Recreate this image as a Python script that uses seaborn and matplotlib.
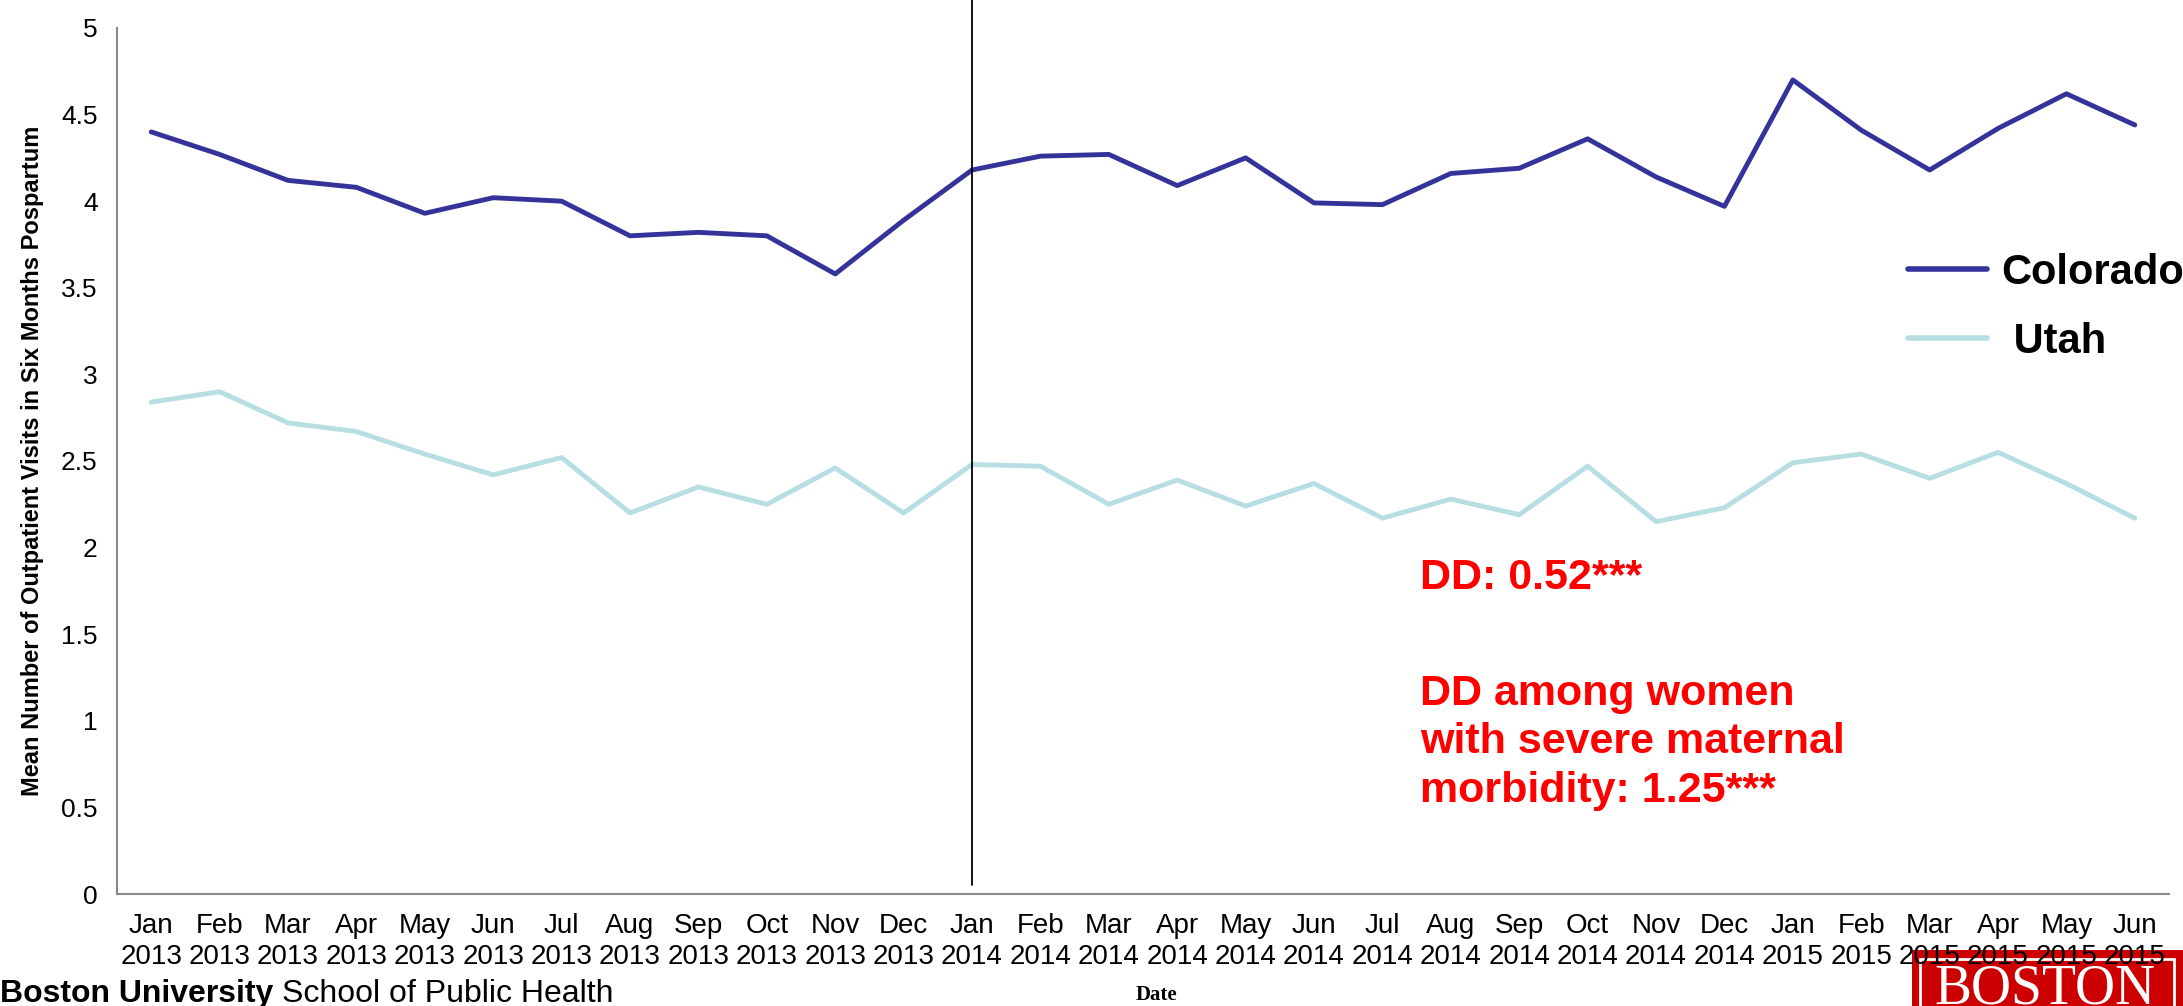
import pandas as pd
import matplotlib.pyplot as plt
import matplotlib.patches as mpatches
from matplotlib import font_manager
import seaborn as sns

# monthly series, Jan 2013 - Jun 2015
months = ["Jan", "Feb", "Mar", "Apr", "May", "Jun", "Jul", "Aug", "Sep", "Oct", "Nov", "Dec"] * 2 + \
         ["Jan", "Feb", "Mar", "Apr", "May", "Jun"]
years = ["2013"] * 12 + ["2014"] * 12 + ["2015"] * 6
colorado = [4.40, 4.27, 4.12, 4.08, 3.93, 4.02, 4.00, 3.80, 3.82, 3.80, 3.58, 3.89,
            4.18, 4.26, 4.27, 4.09, 4.25, 3.99, 3.98, 4.16, 4.19, 4.36, 4.14, 3.97,
            4.70, 4.41, 4.18, 4.42, 4.62, 4.44]
utah = [2.84, 2.90, 2.72, 2.67, 2.54, 2.42, 2.52, 2.20, 2.35, 2.25, 2.46, 2.20,
        2.48, 2.47, 2.25, 2.39, 2.24, 2.37, 2.17, 2.28, 2.19, 2.47, 2.15, 2.23,
        2.49, 2.54, 2.40, 2.55, 2.37, 2.17]
y_ticks = [0, 0.5, 1, 1.5, 2, 2.5, 3, 3.5, 4, 4.5, 5]
policy_idx = 12  # Jan 2014

labels = [f"{m}\n{y}" for m, y in zip(months, years)]
n = len(labels)
df = pd.DataFrame({
    "idx": list(range(n)) * 2,
    "visits": colorado + utah,
    "state": ["Colorado"] * n + ["Utah"] * n,
})

sns.set_style("white")
installed = {f.name for f in font_manager.fontManager.ttflist}
narrow = "Liberation Sans Narrow" if "Liberation Sans Narrow" in installed else "Liberation Sans"
plt.rcParams["font.family"] = ["Liberation Sans", "DejaVu Sans"]
plt.rcParams["text.color"] = "black"

fig = plt.figure(figsize=(21.83, 10.06), dpi=100)
ax = fig.add_axes([0.0536, 0.1113, 0.94, 0.8609])

sns.lineplot(data=df, x="idx", y="visits", hue="state",
             palette={"Colorado": "#333399", "Utah": "#b7dfe3"},
             linewidth=3.5, ax=ax, legend=False)

ax.axvline(policy_idx, ymin=0.01, ymax=1.04, color="black", linewidth=1.3, clip_on=False)

ax.set_xlim(-0.5, n - 0.5)
ax.set_ylim(0, 5)
ax.set_yticks(y_ticks)
ax.set_yticklabels([f"{v:g}" for v in y_ticks], fontsize=19, color="black")
ax.set_xticks(range(n))
ax.set_xticklabels(labels, fontsize=20, family=narrow, linespacing=1.22, color="black")
ax.tick_params(axis="x", length=0, pad=14)
ax.set_xticks([i - 0.5 for i in range(n + 1)], minor=True)
ax.tick_params(axis="x", which="minor", length=9, color="#888888", width=1.2, direction="out")
ax.tick_params(axis="y", length=8, color="#888888", width=1.2, direction="out", pad=6)

for side in ["top", "right"]:
    ax.spines[side].set_visible(False)
for side in ["left", "bottom"]:
    ax.spines[side].set_color("#888888")
    ax.spines[side].set_linewidth(1.5)

ax.set_xlabel("")
ax.set_ylabel("Mean Number of Outpatient Visits in Six Months Pospartum",
              fontsize=17, fontweight="bold", family=narrow, labelpad=12, color="black")

handles = [plt.Line2D([], [], color="#333399", linewidth=4),
           plt.Line2D([], [], color="#b7dfe3", linewidth=4)]
fig.legend(handles, ["Colorado", " Utah"], loc="upper left", bbox_to_anchor=(0.874, 0.749),
           frameon=False, handlelength=1.9, handletextpad=0.35,
           labelspacing=0.7, borderpad=0, borderaxespad=0, prop={"weight": "bold", "size": 30})

ax.text(0.6505, 0.425, "DD: 0.52***", transform=fig.transFigure, color="#ff0000",
        fontsize=31, fontweight="bold", va="center", ha="left")
ax.text(0.6505, 0.262, "DD among women\nwith severe maternal\nmorbidity: 1.25***",
        transform=fig.transFigure, color="#ff0000", fontsize=31, fontweight="bold",
        va="center", ha="left", linespacing=1.27)

fig.text(1136 / 2183, 0.011, "Date", family=["Liberation Serif", "DejaVu Serif"],
         fontsize=15, fontweight="bold", ha="left", va="center")

# footer: bold name, then the school right after it
bu = fig.text(0.0, 0.012, "Boston University", family=narrow, fontsize=23, fontweight="bold",
              ha="left", va="center")
fig.canvas.draw()
bb = bu.get_window_extent().transformed(fig.transFigure.inverted())
fig.text(bb.x1 + 0.004, 0.012, "School of Public Health", family=narrow, fontsize=23,
         ha="left", va="center")

# BU logo block, bottom right (drawn under the axes so tick labels sit on top)
fig.patches.append(mpatches.Rectangle((1912 / 2183, 0), 1 - 1912 / 2183, 56 / 1006,
                                      transform=fig.transFigure, facecolor="#cc0000",
                                      edgecolor="none", zorder=-3))
fig.patches.append(mpatches.Rectangle((1920 / 2183, -0.01), 254 / 2183, 0.01 + 47 / 1006,
                                      transform=fig.transFigure, facecolor="none",
                                      edgecolor="white", linewidth=2, zorder=-2))
fig.text(2045 / 2183, 1 - 964 / 1006, "BOSTON", family=["Liberation Serif", "DejaVu Serif"],
         color="white", fontsize=40, ha="center", va="top", zorder=-1)

fig.savefig("out.png", dpi=100)
